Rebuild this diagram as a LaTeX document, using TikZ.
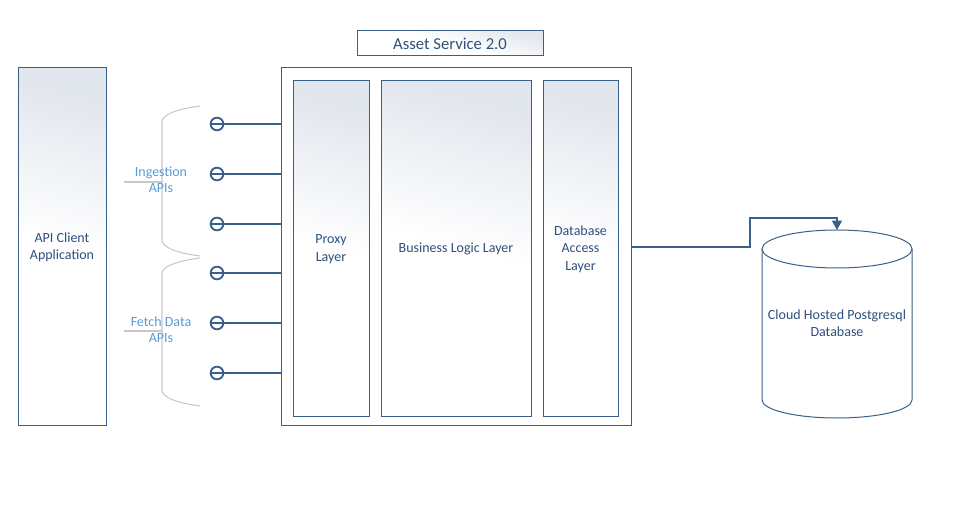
\documentclass[tikz,border=0pt]{standalone}
\usepackage{fontspec}
\setmainfont{Carlito}
\usetikzlibrary{fit,arrows.meta}
\definecolor{edge}{RGB}{58,95,138}
\definecolor{ink}{RGB}{45,80,125}
\definecolor{apiblue}{RGB}{91,155,213}
\definecolor{shadetop}{RGB}{226,230,237}
\definecolor{bracegray}{RGB}{200,200,200}
\tikzset{
  frame/.style={draw=edge, line width=0.75pt, inner sep=0pt},
  layer/.style={frame, top color=shadetop, bottom color=white, middle color=white, shading angle=-15},
  boxtext/.style={align=center, text=ink, inner sep=0pt, font=\fontsize{10.5}{13}\selectfont},
  port/.style={circle, draw=edge, line width=1.4pt, minimum size=9.5pt, inner sep=0pt, fill=white},
  wire/.style={draw=edge, line width=1.5pt},
  link/.style={draw=edge, line width=1.1pt, -{Triangle[length=7pt,width=7.5pt]}},
  dbline/.style={draw=edge, line width=0.75pt},
  apibrace/.style={draw=bracegray, line width=0.8pt},
  apilabel/.style={text=apiblue, align=center, font=\fontsize{10.5}{12}\selectfont},
}
\begin{document}
\begin{tikzpicture}[x=0.75pt, y=-0.75pt]
\useasboundingbox (0,0) rectangle (965,530);
\node[layer, fit={(18,68) (106,426)}] (client) {};
\node[frame, fill=white, fit={(281,68) (631,426)}] (svc) {};
\node[layer, fit={(357,31) (543,56)}] (title) {};
\node[layer, fit={(293,81) (369,417)}] (proxy) {};
\node[layer, fit={(381,81) (531,417)}] (logic) {};
\node[layer, fit={(543,81) (618,417)}] (dal) {};
\node[boxtext] (clienttext) at (client) {API Client\\Application};
\node[boxtext, font=\fontsize{12.5}{14}\selectfont] (titletext) at (title) {Asset Service 2.0};
\node[boxtext] (proxytext) at (proxy) {Proxy\\Layer};
\node[boxtext] (logictext) at (logic) {Business Logic Layer};
\node[boxtext] (daltext) at (dal) {Database\\Access\\Layer};
\foreach \y [count=\i] in {124,174,224,273,323,373} {
  \node[port] (p\i) at (217,\y) {};
  \draw[wire] (p\i.west) -- (p\i.west -| svc.west);
}
\draw[apibrace] (200,106) .. controls (176,109) and (162,115) .. (162,122) -- (162,240) .. controls (162,247) and (176,253) .. (200,256);
\draw[apibrace] (200,258) .. controls (176,261) and (162,267) .. (162,273) -- (162,390) .. controls (162,397) and (176,403) .. (200,406);
\node[apilabel] (ingest) at (161,180) {Ingestion\\APIs};
\node[apilabel] (fetch) at (161,330) {Fetch Data\\APIs};
\draw[apibrace] (124,182) -- (162,182);
\draw[apibrace] (124,331) -- (162,331);
\draw[dbline, fill=white] (762,249) -- (762,400) arc[start angle=180, end angle=0, x radius=75, y radius=18] -- (912,249);
\draw[dbline] (837,249) ellipse[x radius=75, y radius=19];
\node[boxtext] (db) at (837,323) {Cloud Hosted Postgresql\\Database};
\coordinate (bend) at (750,218);
\coordinate (dbtop) at (837,230);
\draw[link] (svc.east) -| (bend) -| (dbtop);
\end{tikzpicture}
\end{document}
